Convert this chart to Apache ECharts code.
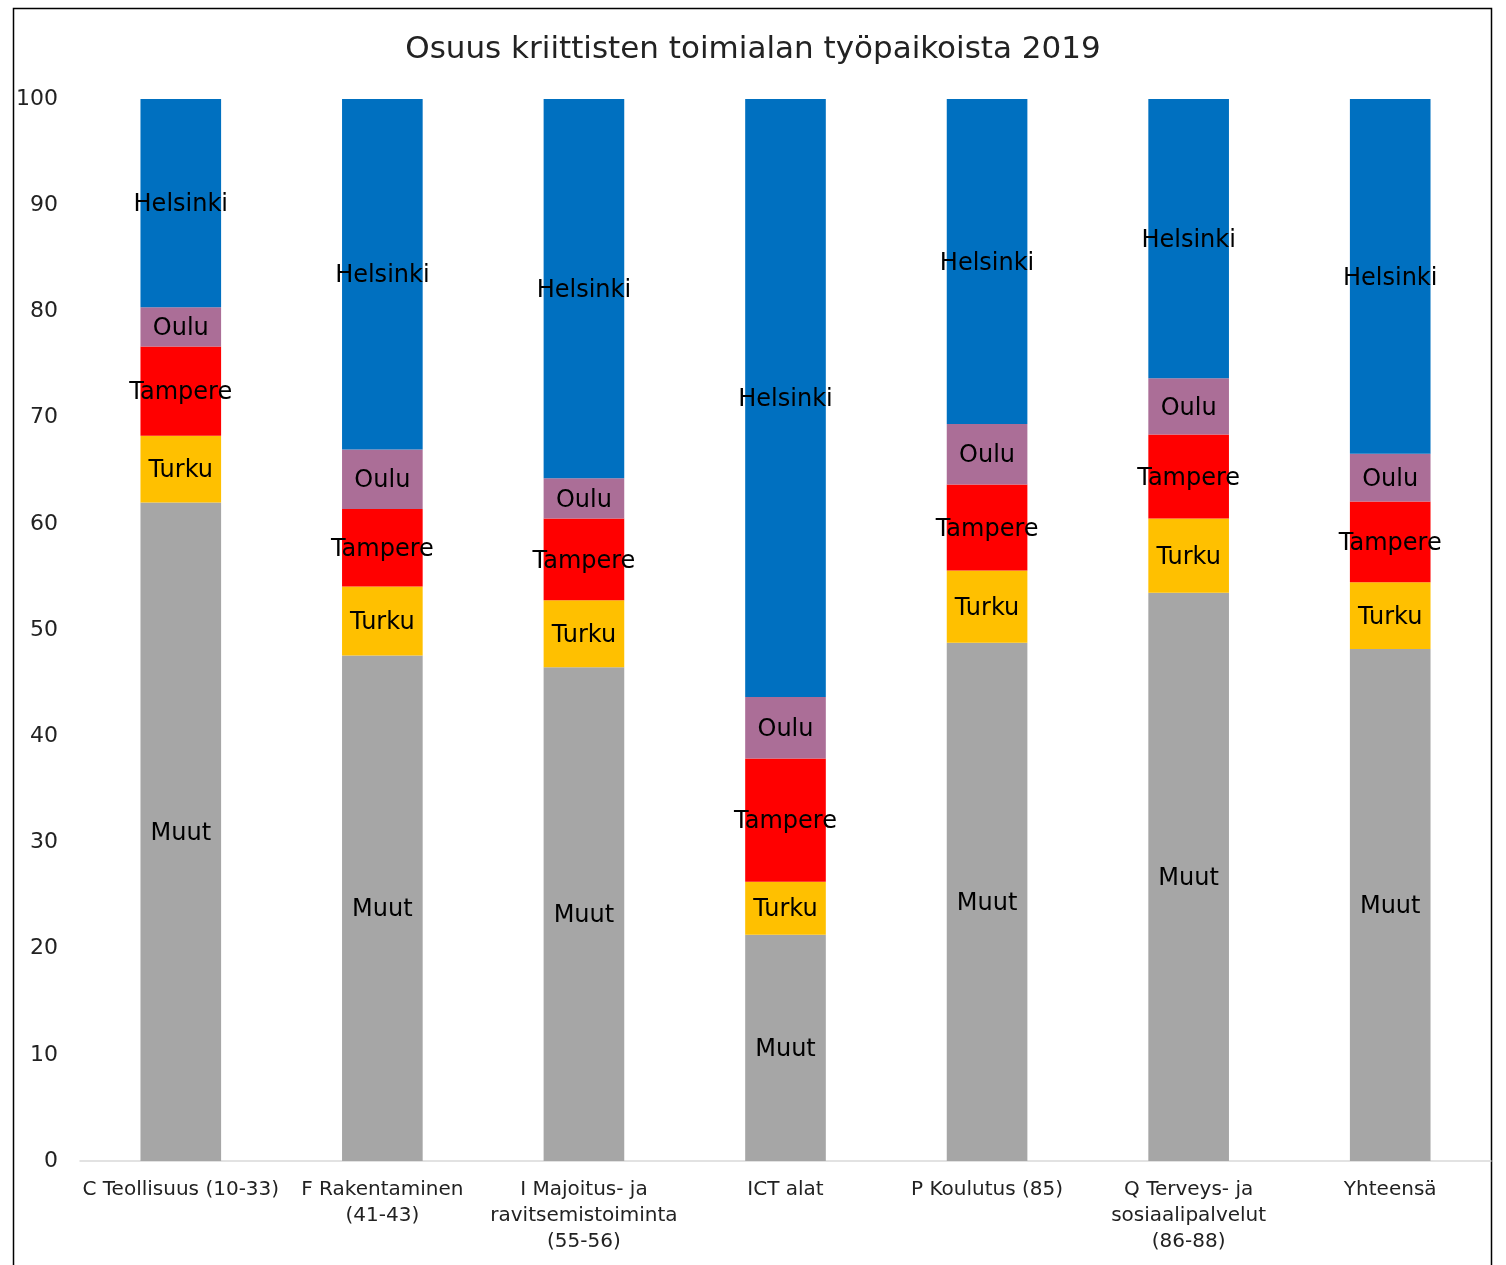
<!DOCTYPE html>
<html>
<head>
<meta charset="utf-8">
<style>
html,body{margin:0;padding:0;background:#fff;}
#chart{width:1506px;height:1265px;}
</style>
<script src="https://cdn.jsdelivr.net/npm/echarts@6/dist/echarts.min.js"></script>
</head>
<body>
<div id="chart"></div>
<script>
const categories = [
  "C Teollisuus (10-33)",
  "F Rakentaminen\n(41-43)",
  "I Majoitus- ja\nravitsemistoiminta\n(55-56)",
  "ICT alat",
  "P Koulutus (85)",
  "Q Terveys- ja\nsosiaalipalvelut\n(86-88)",
  "Yhteensä"
];
const muut     = [62.0, 47.6, 46.5, 21.3, 48.8, 53.5, 48.2];
const turku    = [6.3, 6.5, 6.3, 5.0, 6.8, 7.0, 6.3];
const tampere  = [8.4, 7.3, 7.7, 11.6, 8.1, 7.9, 7.6];
const oulu     = [3.7, 5.6, 3.8, 5.8, 5.7, 5.3, 4.5];
const helsinki = [19.6, 33.0, 35.7, 56.3, 30.6, 26.3, 33.4];
const yTicks = [0, 10, 20, 30, 40, 50, 60, 70, 80, 90, 100];

const FONT = "DejaVu Sans";
function mk(name, data, color) {
  return {
    name: name,
    type: 'bar',
    stack: 'total',
    data: data,
    barWidth: '40%',
    itemStyle: { color: color },
    label: {
      show: true,
      position: 'inside',
      offset: [0, 2],
      formatter: name,
      color: '#000',
      fontFamily: FONT,
      fontSize: 24
    }
  };
}
const chart = echarts.init(document.getElementById('chart'));
chart.setOption({
  animation: false,
  backgroundColor: '#fff',
  title: {
    text: 'Osuus kriittisten toimialan työpaikoista 2019',
    left: 'center',
    top: 29,
    textStyle: { fontFamily: FONT, fontSize: 31, fontWeight: 'normal', color: '#222' }
  },
  graphic: [{
    type: 'rect',
    shape: { x: 13.5, y: 8.5, width: 1478, height: 1280 },
    style: { fill: 'none', stroke: '#000', lineWidth: 1.5 },
    silent: true
  }],
  grid: { left: 80, right: 15, top: 99, bottom: 104, containLabel: false },
  xAxis: {
    type: 'category',
    data: categories,
    axisLine: { lineStyle: { color: '#d9d9d9', width: 1.5 } },
    axisTick: { show: false },
    axisLabel: {
      interval: 0,
      color: '#222',
      fontFamily: FONT,
      fontSize: 20,
      lineHeight: 26,
      margin: 16
    }
  },
  yAxis: {
    type: 'value',
    min: 0,
    max: 100,
    interval: 10,
    axisLine: { show: false },
    axisTick: { show: false },
    splitLine: { show: false },
    axisLabel: {
      color: '#222',
      fontFamily: FONT,
      fontSize: 22,
      margin: 22,
      padding: [2, 0, 0, 0],
      formatter: function (v) { return yTicks.indexOf(v) >= 0 ? String(v) : ''; }
    }
  },
  series: [
    mk('Muut', muut, '#A6A6A6'),
    mk('Turku', turku, '#FFC000'),
    mk('Tampere', tampere, '#FF0000'),
    mk('Oulu', oulu, '#AB6E97'),
    mk('Helsinki', helsinki, '#0070C0')
  ]
});
</script>
</body>
</html>
